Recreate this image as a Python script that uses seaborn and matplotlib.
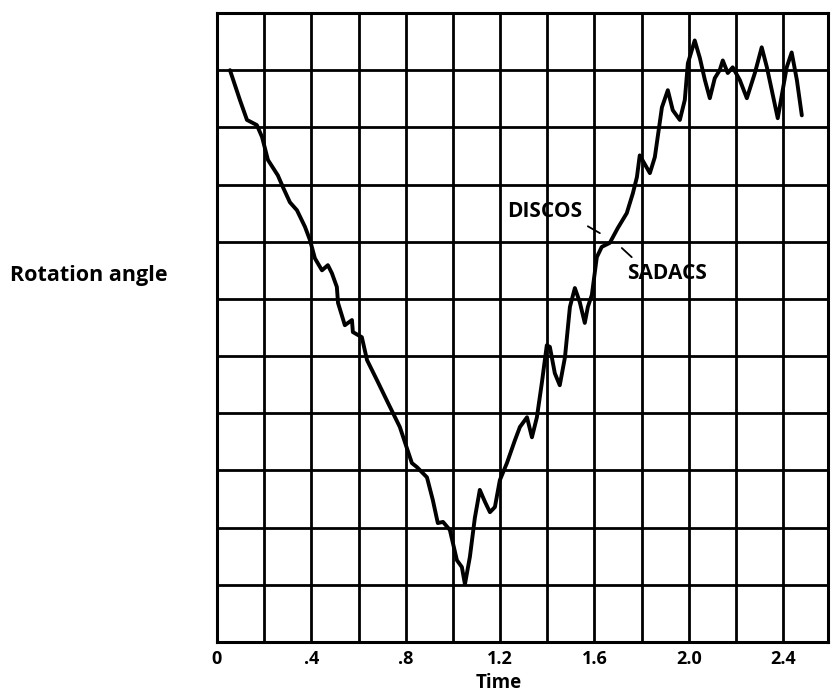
import numpy as np
import pandas as pd
import matplotlib
matplotlib.use("Agg")
import matplotlib.pyplot as plt
import seaborn as sns

# ---- data ----
time = [0.055, 0.097, 0.127, 0.169, 0.191, 0.216, 0.258, 0.280, 0.309, 0.339,
        0.373, 0.394, 0.415, 0.445, 0.470, 0.487, 0.508, 0.513, 0.542, 0.572,
        0.576, 0.614, 0.636, 0.678, 0.725, 0.775, 0.826, 0.847, 0.890, 0.915,
        0.936, 0.958, 0.987, 1.017, 1.038, 1.051, 1.072, 1.093, 1.114, 1.136,
        1.157, 1.178, 1.199, 1.229, 1.263, 1.284, 1.314, 1.335, 1.356, 1.377,
        1.398, 1.411, 1.432, 1.453, 1.475, 1.496, 1.517, 1.538, 1.559, 1.572,
        1.589, 1.610, 1.631, 1.665, 1.699, 1.737, 1.763, 1.780, 1.792, 1.835,
        1.856, 1.886, 1.911, 1.932, 1.962, 1.983, 1.996, 2.025, 2.047, 2.068,
        2.089, 2.110, 2.131, 2.144, 2.165, 2.186, 2.216, 2.246, 2.280, 2.309,
        2.331, 2.377, 2.415, 2.436, 2.458, 2.479]
angle = [10.00, 9.48, 9.13, 9.04, 8.83, 8.43, 8.16, 7.95, 7.69, 7.55,
         7.26, 7.03, 6.71, 6.50, 6.59, 6.45, 6.21, 5.93, 5.54, 5.63,
         5.42, 5.33, 4.93, 4.58, 4.18, 3.76, 3.13, 3.06, 2.88, 2.48,
         2.08, 2.10, 1.96, 1.43, 1.31, 1.01, 1.49, 2.17, 2.66, 2.45,
         2.27, 2.36, 2.83, 3.13, 3.53, 3.76, 3.93, 3.58, 3.93, 4.53,
         5.19, 5.16, 4.70, 4.49, 4.98, 5.86, 6.19, 5.94, 5.58, 5.86,
         6.07, 6.73, 6.91, 6.98, 7.24, 7.50, 7.85, 8.13, 8.51, 8.20,
         8.48, 9.35, 9.65, 9.30, 9.13, 9.48, 10.12, 10.52, 10.21, 9.83,
         9.51, 9.86, 10.00, 10.17, 9.95, 10.05, 9.83, 9.51, 9.95, 10.40,
         10.05, 9.16, 10.05, 10.31, 9.83, 9.21]

x_ticks = [0.0, 0.2, 0.4, 0.6, 0.8, 1.0, 1.2, 1.4, 1.6, 1.8, 2.0, 2.2, 2.4]
x_tick_labels = ["0", "", ".4", "", ".8", "", "1.2", "", "1.6", "", "2.0", "", "2.4"]
y_grid = list(range(0, 12))

labels = ["DISCOS", "SADACS"]
label_pos = [(1.229, 7.52), (1.737, 6.45)]
leader_lines = [((1.572, 7.27), (1.623, 7.15)), ((1.716, 6.89), (1.758, 6.73))]

# ---- plot ----
sns.set_style("white")
plt.rcParams["font.family"] = ["Open Sans", "DejaVu Sans"]
plt.rcParams["text.color"] = "black"
plt.rcParams["xtick.color"] = "black"
plt.rcParams["ytick.color"] = "black"
plt.rcParams["axes.labelcolor"] = "black"

fig = plt.figure(figsize=(8.31, 6.99), dpi=100)
ax = fig.add_axes([217 / 831, 57 / 699, (828 - 217) / 831, (642 - 13) / 699])

df = pd.DataFrame({"Time": time, "Angle": angle})
sns.lineplot(data=df, x="Time", y="Angle", ax=ax, color="black", linewidth=2.8,
             sort=False, estimator=None)

ax.set_xlim(0, 2.59)
ax.set_ylim(0, 11)
ax.set_xticks(x_ticks)
ax.set_xticklabels(x_tick_labels, fontsize=13, fontweight="bold", color="black")
ax.set_yticks(y_grid)
ax.set_yticklabels([])
ax.tick_params(axis="both", length=0, pad=6)
ax.grid(True, color="black", linewidth=2.0)
ax.set_axisbelow(True)
for s in ax.spines.values():
    s.set_color("black")
    s.set_linewidth(2.2)
ax.set_xlabel("")
ax.set_ylabel("")

for lab, (lx, ly) in zip(labels, label_pos):
    ax.text(lx, ly, lab, fontsize=15, fontweight="bold", ha="left", va="center",
            color="black")
for (p0, p1) in leader_lines:
    ax.plot([p0[0], p1[0]], [p0[1], p1[1]], color="black", linewidth=1.3)

fig.text(499 / 831, 1 - 683 / 699, "Time", fontsize=13.5, fontweight="bold",
         ha="center", va="center", color="black")
fig.text(10 / 831, 1 - 275 / 699, "Rotation angle", fontsize=15.5, fontweight="bold",
         ha="left", va="center", color="black")

fig.savefig("out.png", dpi=100, facecolor="white")
